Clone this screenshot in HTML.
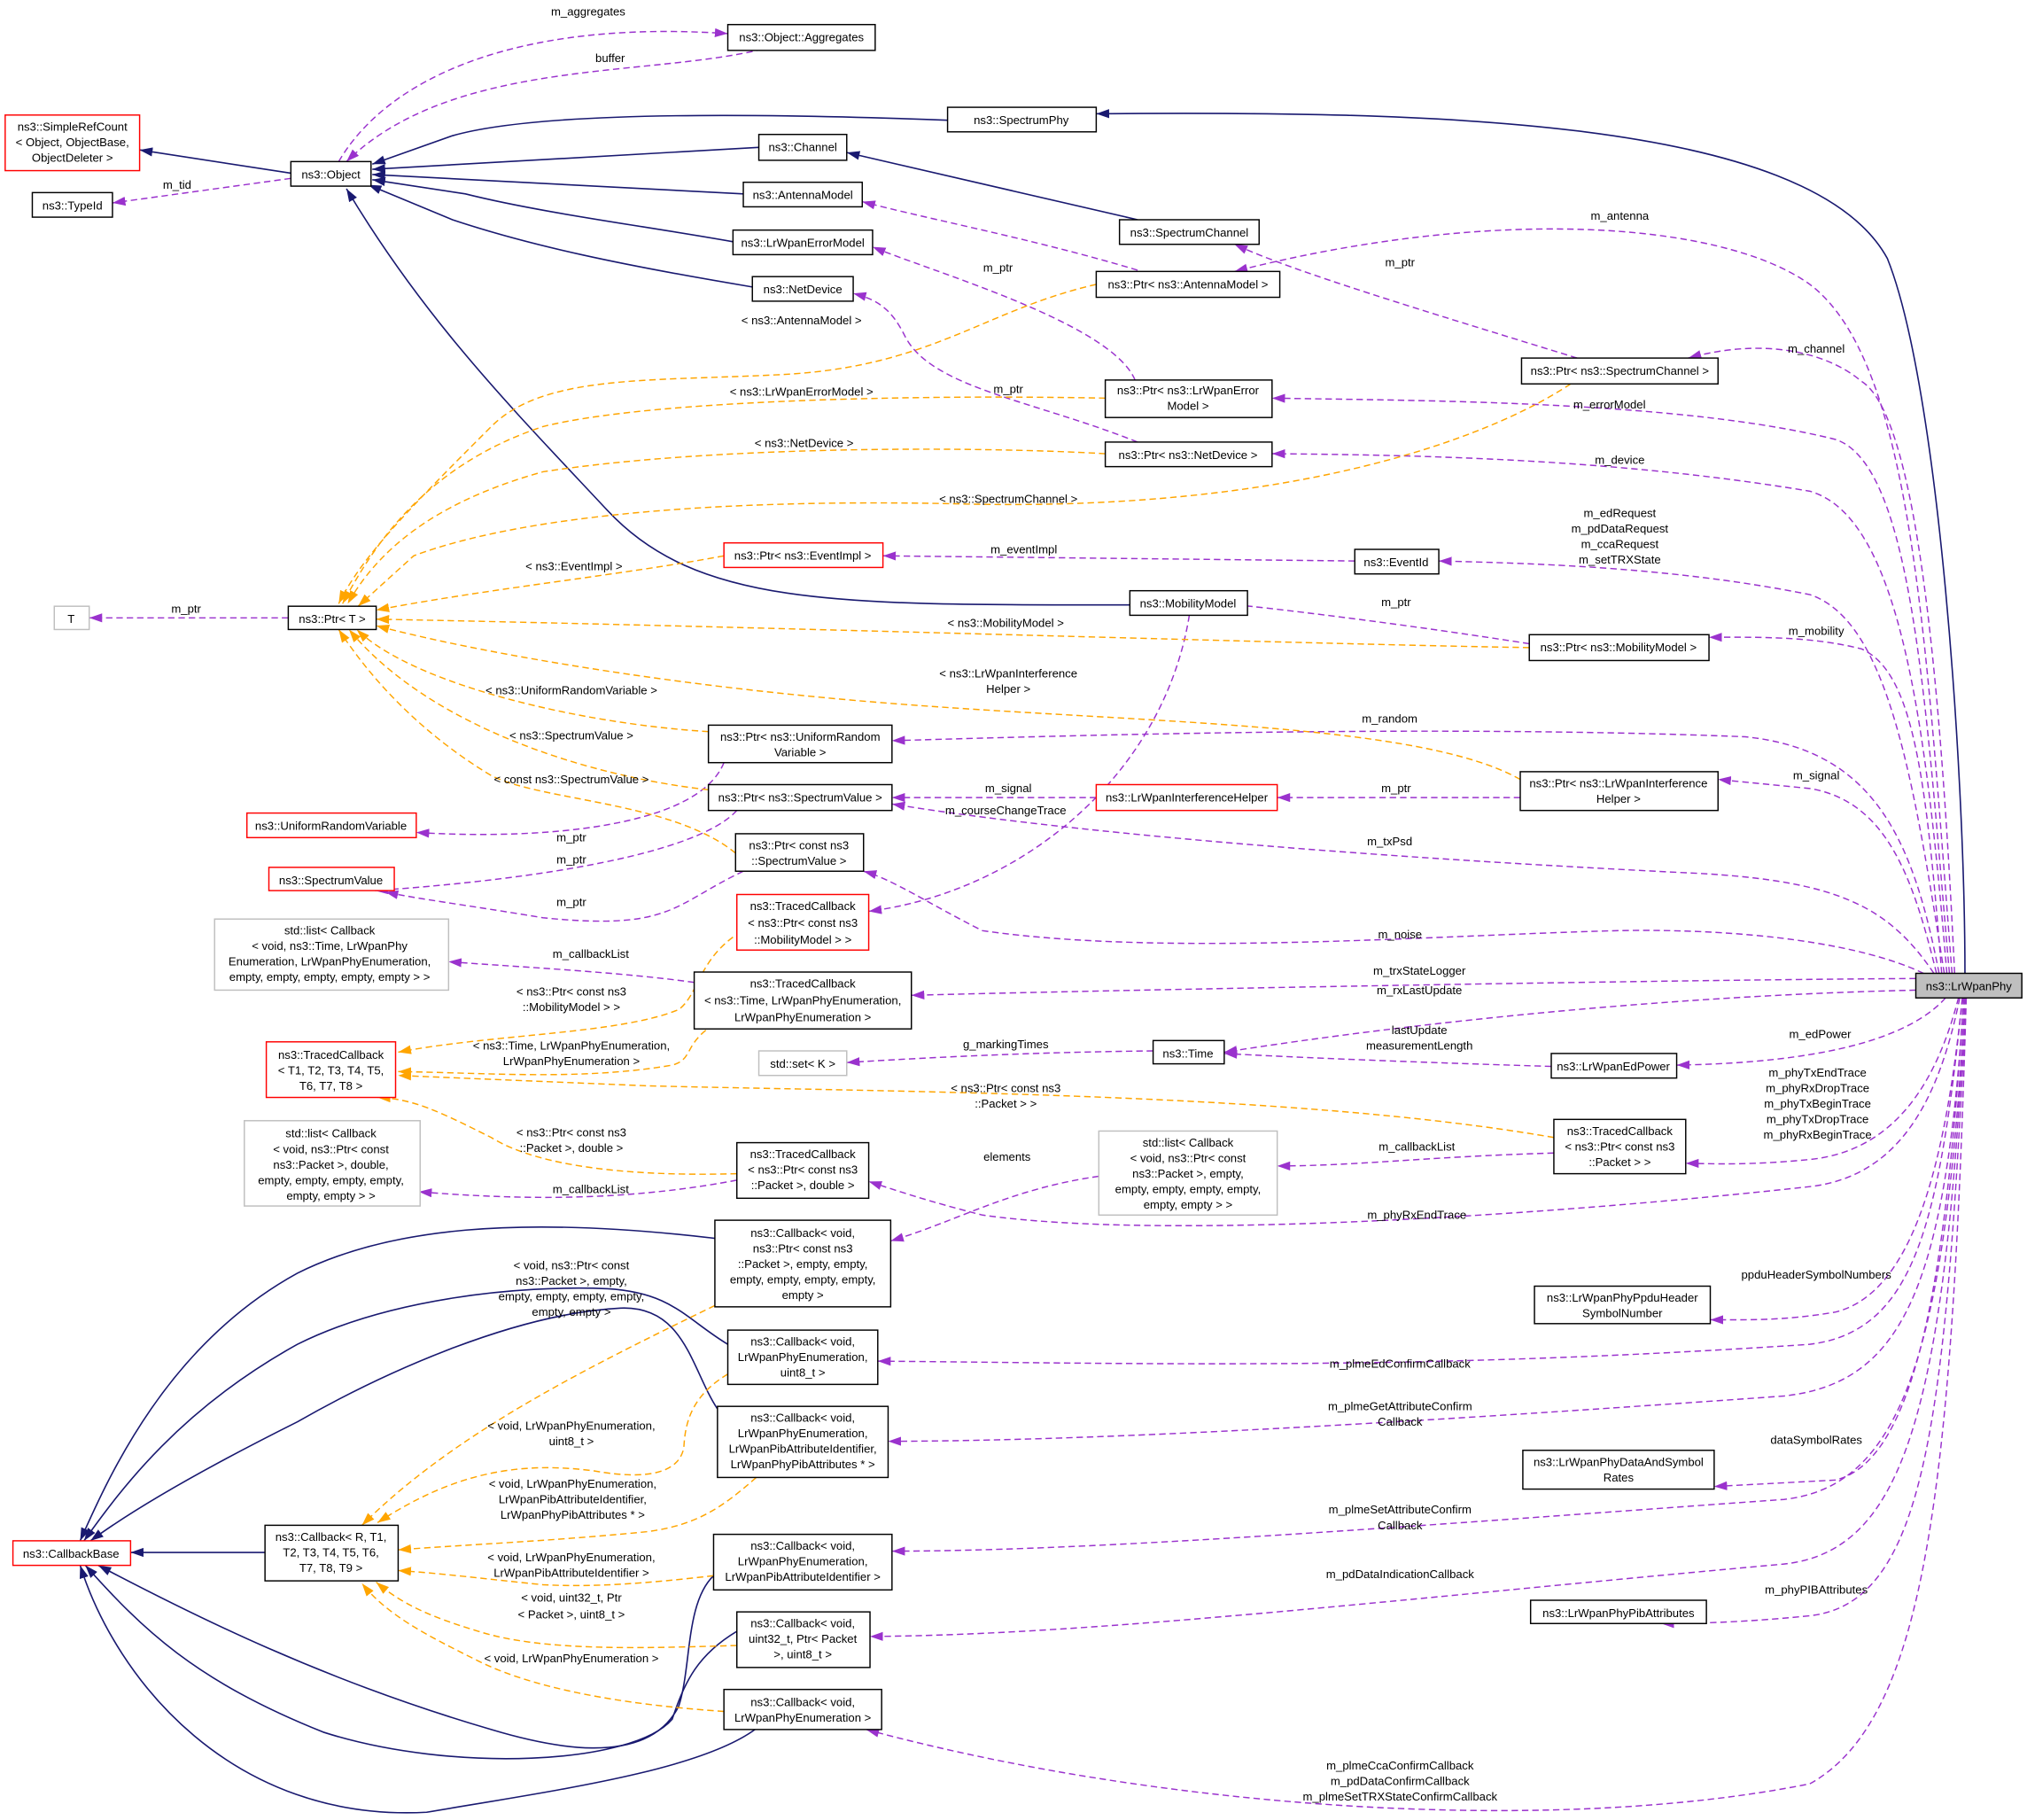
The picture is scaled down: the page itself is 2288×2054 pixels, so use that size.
<!DOCTYPE html>
<html><head><meta charset="utf-8"><style>
html,body{margin:0;padding:0;background:#fff}
svg{display:block}
text{font-family:"Liberation Sans",sans-serif;font-size:9px;fill:#000}
.m{text-anchor:middle}
.n{stroke:#191970;stroke-width:1.1;fill:none}
.p{stroke:#9a32cd;stroke-width:1;fill:none;stroke-dasharray:5,3}
.o{stroke:#ffa500;stroke-width:1;fill:none;stroke-dasharray:5,3}
.b{fill:#fff;stroke:#000;stroke-width:1}
.r{fill:#fff;stroke:#ff0000;stroke-width:1}
.g{fill:#fff;stroke:#bfbfbf;stroke-width:1}
</style></head><body>
<svg width="2288" height="2054" viewBox="0 0 1568 1408" preserveAspectRatio="none" xmlns="http://www.w3.org/2000/svg">
<defs>
<marker id="an" markerUnits="userSpaceOnUse" markerWidth="11" markerHeight="8" refX="10" refY="3.5" orient="auto"><path d="M0,0 L10,3.5 L0,7 z" fill="#191970"/></marker>
<marker id="ap" markerUnits="userSpaceOnUse" markerWidth="11" markerHeight="8" refX="10" refY="3.5" orient="auto"><path d="M0,0 L10,3.5 L0,7 z" fill="#9a32cd"/></marker>
<marker id="ao" markerUnits="userSpaceOnUse" markerWidth="11" markerHeight="8" refX="10" refY="3.5" orient="auto"><path d="M0,0 L10,3.5 L0,7 z" fill="#ffa500"/></marker>
</defs>

<g marker-end="url(#an)">
<path class="n" d="M225,134 L108,116"/>
<path class="n" d="M733,93 C600,88 420,85 350,105 L288,127"/>
<path class="n" d="M587,114 L288,131"/>
<path class="n" d="M575,150 L288,135"/>
<path class="n" d="M567,187 C500,175 420,165 360,150 L288,139"/>
<path class="n" d="M582,222 C480,205 410,190 350,170 L285,143"/>
<path class="n" d="M874,468 C650,468 540,470 470,395 C400,320 330,250 268,146"/>
<path class="n" d="M880,170 L655,118"/>
<path class="n" d="M1520,753 C1520,600 1500,300 1460,200 C1400,90 1100,86 848,88"/>
<path class="n" d="M205,1201 L101,1201"/>
<path class="n" d="M553,958 C400,940 300,950 230,985 C130,1040 85,1140 62,1192"/>
<path class="n" d="M563,1040 C530,1020 520,1000 470,997 C400,994 300,1005 230,1040 C140,1090 95,1150 65,1192"/>
<path class="n" d="M555,1090 C535,1060 530,1010 480,1012 C400,1016 300,1060 230,1100 C150,1140 100,1170 70,1192"/>
<path class="n" d="M552,1219 C530,1240 535,1290 525,1320 C500,1370 420,1350 380,1338 C250,1300 150,1250 76,1211"/>
<path class="n" d="M570,1262 C540,1280 530,1300 520,1330 C490,1365 350,1372 250,1340 C150,1300 110,1260 66,1211"/>
<path class="n" d="M584,1338 C540,1370 430,1385 330,1402 C180,1410 90,1300 62,1211"/>
</g>

<g marker-end="url(#ap)">
<path class="p" d="M262,125 C300,60 400,15 563,26"/>
<path class="p" d="M590,38 C500,60 350,45 268,125"/>
<path class="p" d="M225,138 L87,157"/>
<path class="p" d="M223,478 L69,478"/>
<path class="p" d="M880,209 C800,185 720,170 667,156"/>
<path class="p" d="M878,294 C860,250 720,210 675,191"/>
<path class="p" d="M880,342 C800,310 720,300 700,260 C690,240 680,232 660,227"/>
<path class="p" d="M1220,277 C1100,240 1000,210 955,189"/>
<path class="p" d="M1048,434 L683,430"/>
<path class="p" d="M1183,498 C1100,485 1000,472 947,467"/>
<path class="p" d="M1176,617 L988,617"/>
<path class="p" d="M848,617 L690,617"/>
<path class="p" d="M560,590 C540,640 420,650 322,644"/>
<path class="p" d="M570,627 C540,660 420,680 290,689"/>
<path class="p" d="M575,674 C520,700 520,720 420,710 C360,700 320,695 298,690"/>
<path class="p" d="M920,476 C900,600 790,690 672,705"/>
<path class="p" d="M537,760 C480,752 400,748 347,744"/>
<path class="p" d="M1202,892 C1100,895 1050,902 988,902"/>
<path class="p" d="M570,913 C480,930 400,928 324,922"/>
<path class="p" d="M850,910 C780,920 740,945 689,960"/>
<path class="p" d="M892,813 C800,814 720,818 655,822"/>
<path class="p" d="M1200,825 C1100,822 1000,818 947,815"/>
<path class="p" d="M1510,753 C1490,500 1480,280 1400,220 C1330,170 1150,160 955,210"/>
<path class="p" d="M1512,753 C1500,500 1480,320 1440,295 C1410,270 1360,262 1306,277"/>
<path class="p" d="M1508,753 C1490,550 1480,360 1420,340 C1300,310 1100,310 984,308"/>
<path class="p" d="M1506,753 C1490,560 1470,400 1400,380 C1250,355 1100,352 984,351"/>
<path class="p" d="M1504,753 C1480,600 1460,480 1400,460 C1300,440 1200,436 1113,434"/>
<path class="p" d="M1502,753 C1490,600 1480,520 1440,502 C1400,492 1360,493 1322,493"/>
<path class="p" d="M1500,753 C1480,650 1450,580 1350,570 C1100,560 800,570 690,573"/>
<path class="p" d="M1498,753 C1480,680 1460,620 1400,610 L1329,603"/>
<path class="p" d="M1496,753 C1460,700 1420,680 1300,675 C1000,660 800,640 690,622"/>
<path class="p" d="M1488,753 C1440,730 1350,718 1250,720 C1100,724 900,740 760,720 C720,700 690,680 668,674"/>
<path class="p" d="M1482,757 C1300,758 900,765 705,770"/>
<path class="p" d="M1482,766 C1300,770 1100,790 947,814"/>
<path class="p" d="M1505,772 C1480,800 1420,822 1297,824"/>
<path class="p" d="M1515,772 C1500,830 1470,890 1400,897 C1350,902 1320,900 1304,900"/>
<path class="p" d="M1516,772 C1500,850 1470,910 1400,918 C1200,940 900,960 760,940 C720,930 690,920 672,914"/>
<path class="p" d="M1518,772 C1505,900 1480,1000 1420,1015 C1380,1022 1350,1021 1323,1021"/>
<path class="p" d="M1518,772 C1500,950 1480,1030 1400,1040 C1100,1060 900,1055 679,1053"/>
<path class="p" d="M1519,772 C1505,1000 1470,1070 1380,1080 C1100,1100 850,1115 687,1115"/>
<path class="p" d="M1519,772 C1505,1000 1480,1130 1420,1145 L1326,1150"/>
<path class="p" d="M1520,772 C1505,1050 1470,1150 1380,1160 C1100,1180 850,1200 690,1200"/>
<path class="p" d="M1520,772 C1505,1100 1470,1200 1380,1210 C1100,1235 850,1265 673,1266"/>
<path class="p" d="M1521,772 C1505,1100 1490,1240 1400,1250 C1340,1256 1300,1256 1285,1256"/>
<path class="p" d="M1521,772 C1510,1150 1490,1330 1400,1380 C1200,1420 900,1400 670,1338"/>
</g>

<g marker-end="url(#ao)">
<path class="o" d="M848,220 C760,240 720,285 600,290 C500,295 420,290 380,330 C320,390 280,430 262,467"/>
<path class="o" d="M855,308 C700,305 500,310 420,330 C330,360 290,420 265,467"/>
<path class="o" d="M855,351 C750,345 550,345 420,365 C330,390 290,430 269,467"/>
<path class="o" d="M1215,297 C1150,340 1000,395 750,390 C550,385 400,400 320,430 L277,469"/>
<path class="o" d="M560,430 C480,445 380,455 291,472"/>
<path class="o" d="M1183,501 C1000,498 600,485 291,479"/>
<path class="o" d="M1176,603 C1100,560 900,560 700,545 C500,530 350,500 291,484"/>
<path class="o" d="M548,566 C450,560 320,530 276,487"/>
<path class="o" d="M548,611 C450,600 330,560 270,487"/>
<path class="o" d="M569,660 C520,620 420,620 380,600 C330,570 290,530 262,487"/>
<path class="o" d="M567,725 C540,745 540,770 525,781 C480,800 380,800 308,814"/>
<path class="o" d="M546,797 C530,810 535,820 520,824 C450,836 380,830 308,829"/>
<path class="o" d="M1202,880 C1000,845 700,845 500,840 L308,832"/>
<path class="o" d="M570,908 C500,910 420,905 380,880 C340,860 320,850 292,849"/>
<path class="o" d="M553,1010 C450,1060 350,1110 280,1180"/>
<path class="o" d="M563,1063 C535,1080 530,1100 529,1120 C525,1140 500,1145 460,1138 C400,1130 350,1140 292,1178"/>
<path class="o" d="M585,1143 C560,1165 540,1180 500,1185 C430,1192 360,1195 308,1199"/>
<path class="o" d="M552,1219 C500,1225 460,1228 420,1226 C380,1222 340,1217 308,1215"/>
<path class="o" d="M570,1273 C500,1275 420,1278 370,1262 C330,1250 310,1240 291,1224"/>
<path class="o" d="M560,1324 C500,1320 420,1310 370,1285 C330,1265 300,1250 280,1225"/>
</g>

<g class="m">
<text x="455" y="12">m_aggregates</text>
<text x="472" y="48">buffer</text>
<text x="137" y="146">m_tid</text>
<text x="144" y="474">m_ptr</text>
<text x="772" y="210">m_ptr</text>
<text x="780" y="304">m_ptr</text>
<text x="1083" y="206">m_ptr</text>
<text x="792" y="428">m_eventImpl</text>
<text x="1080" y="469">m_ptr</text>
<text x="1080" y="613">m_ptr</text>
<text x="780" y="613">m_signal</text>
<text x="442" y="651">m_ptr</text>
<text x="442" y="668">m_ptr</text>
<text x="442" y="701">m_ptr</text>
<text x="778" y="630">m_courseChangeTrace</text>
<text x="457" y="741">m_callbackList</text>
<text x="1096" y="890">m_callbackList</text>
<text x="457" y="923">m_callbackList</text>
<text x="779" y="898">elements</text>
<text x="778" y="811">g_markingTimes</text>
<text x="1098" y="800">lastUpdate</text>
<text x="1098" y="812">measurementLength</text>
<text x="620" y="251">&lt; ns3::AntennaModel &gt;</text>
<text x="620" y="306">&lt; ns3::LrWpanErrorModel &gt;</text>
<text x="622" y="346">&lt; ns3::NetDevice &gt;</text>
<text x="780" y="389">&lt; ns3::SpectrumChannel &gt;</text>
<text x="444" y="441">&lt; ns3::EventImpl &gt;</text>
<text x="778" y="485">&lt; ns3::MobilityModel &gt;</text>
<text x="780" y="524">&lt; ns3::LrWpanInterference</text>
<text x="780" y="536">Helper &gt;</text>
<text x="442" y="537">&lt; ns3::UniformRandomVariable &gt;</text>
<text x="442" y="572">&lt; ns3::SpectrumValue &gt;</text>
<text x="442" y="606">&lt; const ns3::SpectrumValue &gt;</text>
<text x="442" y="770">&lt; ns3::Ptr&lt; const ns3</text>
<text x="442" y="782">::MobilityModel &gt; &gt;</text>
<text x="442" y="812">&lt; ns3::Time, LrWpanPhyEnumeration,</text>
<text x="442" y="824">LrWpanPhyEnumeration &gt;</text>
<text x="778" y="845">&lt; ns3::Ptr&lt; const ns3</text>
<text x="778" y="857">::Packet &gt; &gt;</text>
<text x="442" y="879">&lt; ns3::Ptr&lt; const ns3</text>
<text x="442" y="891">::Packet &gt;, double &gt;</text>
<text x="442" y="982">&lt; void, ns3::Ptr&lt; const</text>
<text x="442" y="994">ns3::Packet &gt;, empty,</text>
<text x="442" y="1006">empty, empty, empty, empty,</text>
<text x="442" y="1018">empty, empty &gt;</text>
<text x="442" y="1106">&lt; void, LrWpanPhyEnumeration,</text>
<text x="442" y="1118">uint8_t &gt;</text>
<text x="443" y="1151">&lt; void, LrWpanPhyEnumeration,</text>
<text x="443" y="1163">LrWpanPibAttributeIdentifier,</text>
<text x="443" y="1175">LrWpanPhyPibAttributes * &gt;</text>
<text x="442" y="1208">&lt; void, LrWpanPhyEnumeration,</text>
<text x="442" y="1220">LrWpanPibAttributeIdentifier &gt;</text>
<text x="442" y="1239">&lt; void, uint32_t, Ptr</text>
<text x="442" y="1252">&lt; Packet &gt;, uint8_t &gt;</text>
<text x="442" y="1286">&lt; void, LrWpanPhyEnumeration &gt;</text>
<text x="1253" y="170">m_antenna</text>
<text x="1405" y="273">m_channel</text>
<text x="1245" y="316">m_errorModel</text>
<text x="1253" y="359">m_device</text>
<text x="1253" y="400">m_edRequest</text>
<text x="1253" y="412">m_pdDataRequest</text>
<text x="1253" y="424">m_ccaRequest</text>
<text x="1253" y="436">m_setTRXState</text>
<text x="1405" y="491">m_mobility</text>
<text x="1075" y="559">m_random</text>
<text x="1405" y="603">m_signal</text>
<text x="1075" y="654">m_txPsd</text>
<text x="1083" y="726">m_noise</text>
<text x="1098" y="754">m_trxStateLogger</text>
<text x="1098" y="769">m_rxLastUpdate</text>
<text x="1408" y="803">m_edPower</text>
<text x="1406" y="833">m_phyTxEndTrace</text>
<text x="1406" y="845">m_phyRxDropTrace</text>
<text x="1406" y="857">m_phyTxBeginTrace</text>
<text x="1406" y="869">m_phyTxDropTrace</text>
<text x="1406" y="881">m_phyRxBeginTrace</text>
<text x="1096" y="943">m_phyRxEndTrace</text>
<text x="1405" y="989">ppduHeaderSymbolNumbers</text>
<text x="1083" y="1058">m_plmeEdConfirmCallback</text>
<text x="1083" y="1091">m_plmeGetAttributeConfirm</text>
<text x="1083" y="1103">Callback</text>
<text x="1405" y="1117">dataSymbolRates</text>
<text x="1083" y="1171">m_plmeSetAttributeConfirm</text>
<text x="1083" y="1183">Callback</text>
<text x="1083" y="1221">m_pdDataIndicationCallback</text>
<text x="1405" y="1233">m_phyPIBAttributes</text>
<text x="1083" y="1369">m_plmeCcaConfirmCallback</text>
<text x="1083" y="1381">m_pdDataConfirmCallback</text>
<text x="1083" y="1393">m_plmeSetTRXStateConfirmCallback</text>
</g>

<g class="m">
<rect class="b" x="563" y="19" width="114" height="20"/><text x="620" y="32">ns3::Object::Aggregates</text>
<rect class="r" x="4" y="89" width="104" height="43"/><text x="56" y="101">ns3::SimpleRefCount</text><text x="56" y="113">&lt; Object, ObjectBase,</text><text x="56" y="125">ObjectDeleter &gt;</text>
<rect class="b" x="225" y="125" width="62" height="19"/><text x="256" y="138">ns3::Object</text>
<rect class="b" x="25" y="149" width="62" height="19"/><text x="56" y="162">ns3::TypeId</text>
<rect class="b" x="733" y="83" width="115" height="19"/><text x="790" y="96">ns3::SpectrumPhy</text>
<rect class="b" x="587" y="104" width="68" height="20"/><text x="621" y="117">ns3::Channel</text>
<rect class="b" x="575" y="141" width="92" height="19"/><text x="621" y="154">ns3::AntennaModel</text>
<rect class="b" x="567" y="178" width="108" height="19"/><text x="621" y="191">ns3::LrWpanErrorModel</text>
<rect class="b" x="582" y="214" width="78" height="19"/><text x="621" y="227">ns3::NetDevice</text>
<rect class="b" x="866" y="170" width="108" height="19"/><text x="920" y="183">ns3::SpectrumChannel</text>
<rect class="b" x="848" y="210" width="142" height="20"/><text x="919" y="223">ns3::Ptr&lt; ns3::AntennaModel &gt;</text>
<rect class="b" x="1177" y="277" width="152" height="20"/><text x="1253" y="290">ns3::Ptr&lt; ns3::SpectrumChannel &gt;</text>
<rect class="b" x="855" y="294" width="129" height="29"/><text x="919" y="305">ns3::Ptr&lt; ns3::LrWpanError</text><text x="919" y="317">Model &gt;</text>
<rect class="b" x="855" y="342" width="129" height="19"/><text x="919" y="355">ns3::Ptr&lt; ns3::NetDevice &gt;</text>
<rect class="r" x="560" y="420" width="123" height="19"/><text x="621" y="433">ns3::Ptr&lt; ns3::EventImpl &gt;</text>
<rect class="b" x="1048" y="425" width="65" height="19"/><text x="1080" y="438">ns3::EventId</text>
<rect class="g" x="42" y="469" width="27" height="18"/><text x="55" y="482">T</text>
<rect class="b" x="223" y="469" width="68" height="18"/><text x="257" y="482">ns3::Ptr&lt; T &gt;</text>
<rect class="b" x="874" y="457" width="91" height="19"/><text x="919" y="470">ns3::MobilityModel</text>
<rect class="b" x="1183" y="491" width="139" height="20"/><text x="1252" y="504">ns3::Ptr&lt; ns3::MobilityModel &gt;</text>
<rect class="b" x="548" y="561" width="142" height="29"/><text x="619" y="573">ns3::Ptr&lt; ns3::UniformRandom</text><text x="619" y="585">Variable &gt;</text>
<rect class="r" x="191" y="629" width="131" height="19"/><text x="256" y="642">ns3::UniformRandomVariable</text>
<rect class="b" x="548" y="607" width="142" height="20"/><text x="619" y="620">ns3::Ptr&lt; ns3::SpectrumValue &gt;</text>
<rect class="r" x="848" y="607" width="140" height="20"/><text x="918" y="620">ns3::LrWpanInterferenceHelper</text>
<rect class="b" x="1176" y="597" width="153" height="30"/><text x="1252" y="609">ns3::Ptr&lt; ns3::LrWpanInterference</text><text x="1252" y="621">Helper &gt;</text>
<rect class="r" x="208" y="671" width="97" height="18"/><text x="256" y="684">ns3::SpectrumValue</text>
<rect class="b" x="569" y="645" width="99" height="29"/><text x="618" y="657">ns3::Ptr&lt; const ns3</text><text x="618" y="669">::SpectrumValue &gt;</text>
<rect class="r" x="570" y="692" width="102" height="43"/><text x="621" y="704">ns3::TracedCallback</text><text x="621" y="717">&lt; ns3::Ptr&lt; const ns3</text><text x="621" y="730">::MobilityModel &gt; &gt;</text>
<rect class="g" x="166" y="711" width="181" height="55"/><text x="255" y="723">std::list&lt; Callback</text><text x="255" y="735">&lt; void, ns3::Time, LrWpanPhy</text><text x="255" y="747">Enumeration, LrWpanPhyEnumeration,</text><text x="255" y="759">empty, empty, empty, empty, empty &gt; &gt;</text>
<rect class="b" x="537" y="752" width="168" height="44"/><text x="621" y="764">ns3::TracedCallback</text><text x="621" y="777">&lt; ns3::Time, LrWpanPhyEnumeration,</text><text x="621" y="790">LrWpanPhyEnumeration &gt;</text>
<rect class="r" x="206" y="806" width="100" height="43"/><text x="256" y="819">ns3::TracedCallback</text><text x="256" y="831">&lt; T1, T2, T3, T4, T5,</text><text x="256" y="843">T6, T7, T8 &gt;</text>
<rect class="g" x="587" y="813" width="68" height="19"/><text x="621" y="826">std::set&lt; K &gt;</text>
<rect class="b" x="892" y="805" width="55" height="18"/><text x="919" y="818">ns3::Time</text>
<rect class="b" x="1200" y="815" width="97" height="19"/><text x="1248" y="828">ns3::LrWpanEdPower</text>
<rect class="b" x="1202" y="866" width="102" height="42"/><text x="1253" y="878">ns3::TracedCallback</text><text x="1253" y="890">&lt; ns3::Ptr&lt; const ns3</text><text x="1253" y="902">::Packet &gt; &gt;</text>
<rect class="g" x="850" y="875" width="138" height="65"/><text x="919" y="887">std::list&lt; Callback</text><text x="919" y="899">&lt; void, ns3::Ptr&lt; const</text><text x="919" y="911">ns3::Packet &gt;, empty,</text><text x="919" y="923">empty, empty, empty, empty,</text><text x="919" y="935">empty, empty &gt; &gt;</text>
<rect class="g" x="189" y="867" width="136" height="66"/><text x="256" y="880">std::list&lt; Callback</text><text x="256" y="892">&lt; void, ns3::Ptr&lt; const</text><text x="256" y="904">ns3::Packet &gt;, double,</text><text x="256" y="916">empty, empty, empty, empty,</text><text x="256" y="928">empty, empty &gt; &gt;</text>
<rect class="b" x="570" y="884" width="102" height="43"/><text x="621" y="896">ns3::TracedCallback</text><text x="621" y="908">&lt; ns3::Ptr&lt; const ns3</text><text x="621" y="920">::Packet &gt;, double &gt;</text>
<rect class="b" x="553" y="944" width="136" height="67"/><text x="621" y="957">ns3::Callback&lt; void,</text><text x="621" y="969">ns3::Ptr&lt; const ns3</text><text x="621" y="981">::Packet &gt;, empty, empty,</text><text x="621" y="993">empty, empty, empty, empty,</text><text x="621" y="1005">empty &gt;</text>
<rect class="b" x="563" y="1029" width="116" height="42"/><text x="621" y="1041">ns3::Callback&lt; void,</text><text x="621" y="1053">LrWpanPhyEnumeration,</text><text x="621" y="1065">uint8_t &gt;</text>
<rect class="b" x="555" y="1088" width="132" height="55"/><text x="621" y="1100">ns3::Callback&lt; void,</text><text x="621" y="1112">LrWpanPhyEnumeration,</text><text x="621" y="1124">LrWpanPibAttributeIdentifier,</text><text x="621" y="1136">LrWpanPhyPibAttributes * &gt;</text>
<rect class="r" x="10" y="1192" width="91" height="19"/><text x="55" y="1205">ns3::CallbackBase</text>
<rect class="b" x="205" y="1180" width="103" height="43"/><text x="256" y="1192">ns3::Callback&lt; R, T1,</text><text x="256" y="1204">T2, T3, T4, T5, T6,</text><text x="256" y="1216">T7, T8, T9 &gt;</text>
<rect class="b" x="552" y="1187" width="138" height="43"/><text x="621" y="1199">ns3::Callback&lt; void,</text><text x="621" y="1211">LrWpanPhyEnumeration,</text><text x="621" y="1223">LrWpanPibAttributeIdentifier &gt;</text>
<rect class="b" x="570" y="1247" width="103" height="43"/><text x="621" y="1259">ns3::Callback&lt; void,</text><text x="621" y="1271">uint32_t, Ptr&lt; Packet</text><text x="621" y="1283">&gt;, uint8_t &gt;</text>
<rect class="b" x="560" y="1307" width="122" height="31"/><text x="621" y="1320">ns3::Callback&lt; void,</text><text x="621" y="1332">LrWpanPhyEnumeration &gt;</text>
<rect x="1482" y="753" width="82" height="19" fill="#bfbfbf" stroke="#000"/><text x="1523" y="766">ns3::LrWpanPhy</text>
<rect class="b" x="1187" y="995" width="136" height="29"/><text x="1255" y="1007">ns3::LrWpanPhyPpduHeader</text><text x="1255" y="1019">SymbolNumber</text>
<rect class="b" x="1178" y="1122" width="148" height="30"/><text x="1252" y="1134">ns3::LrWpanPhyDataAndSymbol</text><text x="1252" y="1146">Rates</text>
<rect class="b" x="1184" y="1238" width="136" height="18"/><text x="1252" y="1251">ns3::LrWpanPhyPibAttributes</text>
</g>
</svg>
</body></html>
